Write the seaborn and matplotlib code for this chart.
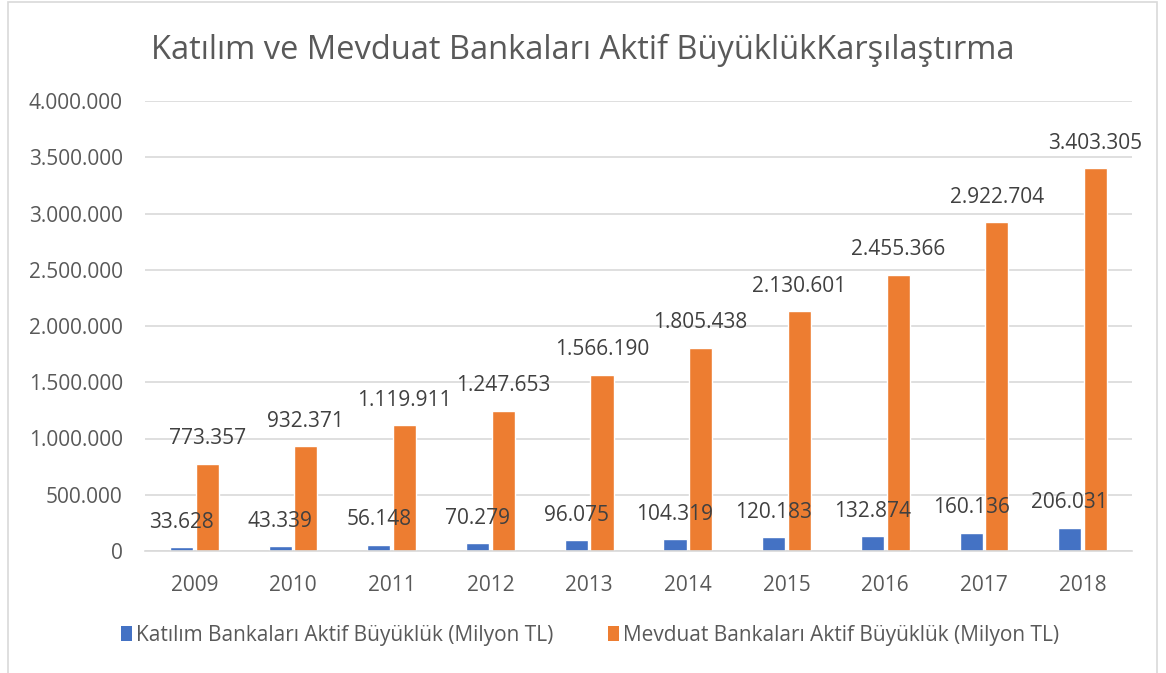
import pandas as pd
import numpy as np
import matplotlib
matplotlib.use('Agg')
import matplotlib.pyplot as plt
import seaborn as sns
from matplotlib.patches import Rectangle, Patch

# Data (Milyon TL)
years = ['2009', '2010', '2011', '2012', '2013', '2014', '2015', '2016', '2017', '2018']
katilim = [33628, 43339, 56148, 70279, 96075, 104319, 120183, 132874, 160136, 206031]
mevduat = [773357, 932371, 1119911, 1247653, 1566190, 1805438, 2130601, 2455366, 2922704, 3403305]
series_names = ['Katılım Bankaları Aktif Büyüklük (Milyon TL)',
                'Mevduat Bankaları Aktif Büyüklük (Milyon TL)']
y_ticks = [0, 500000, 1000000, 1500000, 2000000, 2500000, 3000000, 3500000, 4000000]

title = 'Katılım ve Mevduat Bankaları Aktif BüyüklükKarşılaştırma'
colors = ['#4472C4', '#ED7D31']


def tr_fmt(v):
    return f"{int(v):,}".replace(",", ".")


df = pd.DataFrame({
    'Yil': years * 2,
    'Deger': katilim + mevduat,
    'Seri': [series_names[0]] * len(years) + [series_names[1]] * len(years),
})

sns.set_style("white")
plt.rcParams['font.family'] = ['Open Sans', 'DejaVu Sans']

fig = plt.figure(figsize=(11.66, 6.73), dpi=100)
ax = fig.add_axes([145 / 1166, 1 - 551 / 673, 987 / 1166, 450 / 673])

sns.barplot(data=df, x='Yil', y='Deger', hue='Seri', palette=colors,
            width=0.52, gap=0.1, saturation=1, legend=False, ax=ax)

n = len(years)
for i, p in enumerate(ax.patches[:2 * n]):
    val = katilim[i] if i < n else mevduat[i - n]
    ax.annotate(tr_fmt(val), (p.get_x() + p.get_width() / 2, p.get_height()),
                xytext=(0, 18), textcoords='offset points',
                ha='center', va='center', fontsize=15, color='#404040', zorder=3)

ax.set_ylim(0, 4000000)
ax.set_yticks(y_ticks)
ax.set_yticklabels([tr_fmt(t) for t in y_ticks])
ax.yaxis.grid(True, color='#D9D9D9', linewidth=1.2)
ax.set_axisbelow(True)
for s in ax.spines.values():
    s.set_visible(False)
ax.spines['bottom'].set_visible(True)
ax.spines['bottom'].set_color('#D9D9D9')
ax.spines['bottom'].set_linewidth(1.2)
ax.tick_params(axis='both', length=0, labelsize=15, labelcolor='#595959')
ax.tick_params(axis='y', pad=16)
ax.tick_params(axis='x', pad=17)
ax.set_xlabel('')
ax.set_ylabel('')

fig.text(583 / 1166, 1 - 50 / 673, title, ha='center', va='center',
         fontsize=23.5, color='#595959')

handles = [Patch(facecolor=c, edgecolor='none') for c in colors]
fig.legend(handles, series_names, loc='center', bbox_to_anchor=(590 / 1166, 1 - 635 / 673),
           ncol=2, frameon=False, fontsize=15, labelcolor='#595959',
           handlelength=0.55, handleheight=0.75, handletextpad=0.2, columnspacing=2.6)

# chart frame
fig.add_artist(Rectangle((8 / 1166, -0.02), 1149 / 1166, 1.02 - 2 / 673,
                         transform=fig.transFigure, fill=False,
                         edgecolor='#D9D9D9', linewidth=1.2))

fig.savefig('out.png', dpi=100)
